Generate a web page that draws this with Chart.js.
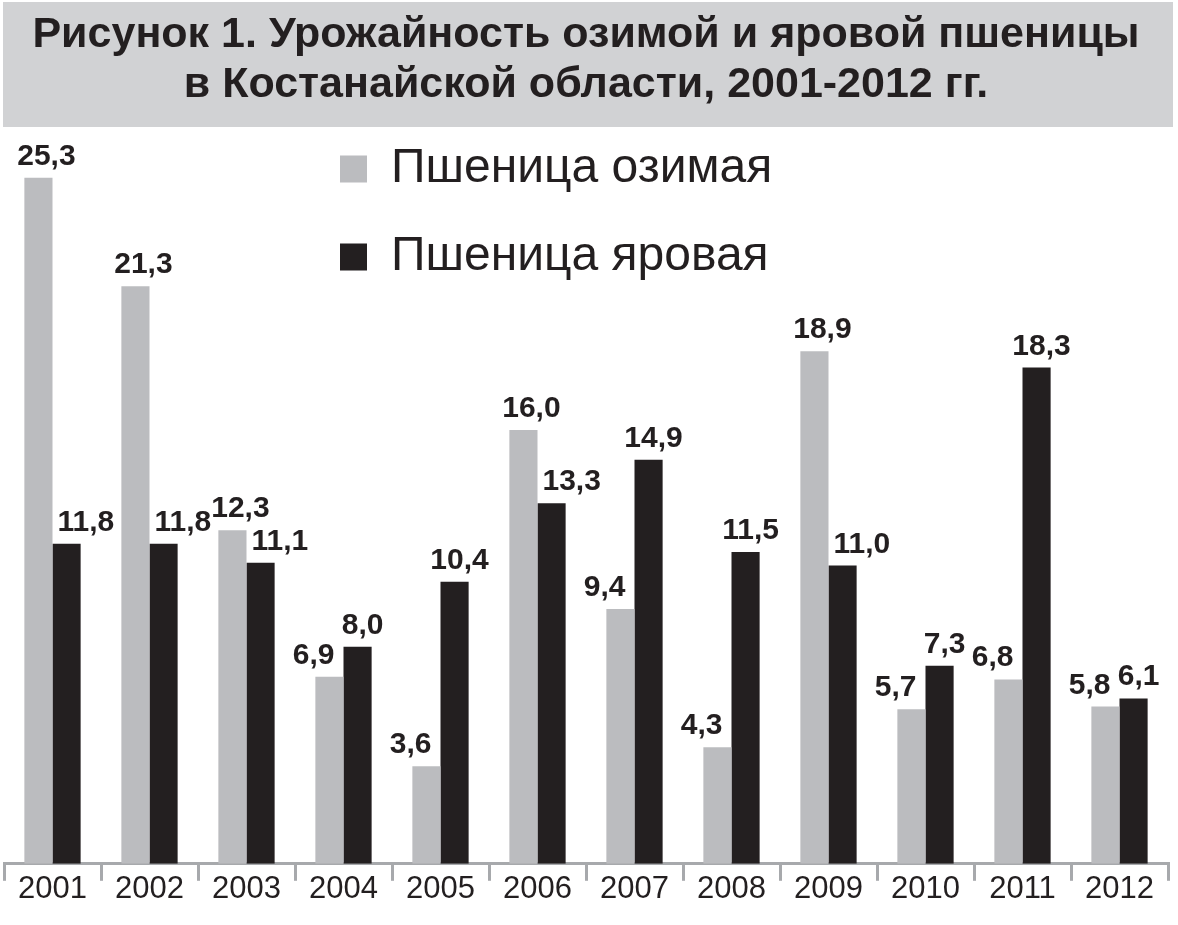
<!DOCTYPE html>
<html lang="ru">
<head>
<meta charset="utf-8">
<title>Урожайность озимой и яровой пшеницы</title>
<script src="https://cdn.jsdelivr.net/npm/chart.js@4.4.1/dist/chart.umd.min.js"></script>
<style>
  html, body { margin: 0; padding: 0; background: #fff; }
  canvas { display: block; }
</style>
</head>
<body>
<canvas id="chart" width="1178" height="925"></canvas>
<script>
const years = ['2001', '2002', '2003', '2004', '2005', '2006', '2007', '2008', '2009', '2010', '2011', '2012'];
const winterWheat = [25.3, 21.3, 12.3, 6.9, 3.6, 16.0, 9.4, 4.3, 18.9, 5.7, 6.8, 5.8];
const springWheat = [11.8, 11.8, 11.1, 8.0, 10.4, 13.3, 14.9, 11.5, 11.0, 7.3, 18.3, 6.1];
const seriesNames = ['Пшеница озимая', 'Пшеница яровая'];
const titleLines = ['Рисунок 1. Урожайность озимой и яровой пшеницы', 'в Костанайской области, 2001-2012 гг.'];

const INK = '#231f20';

// серый фон под заголовком
const titleBg = {
  id: 'titleBg',
  beforeDraw(chart) {
    const c = chart.ctx;
    c.save();
    c.fillStyle = '#d1d2d4';
    c.fillRect(3, 2, chart.width - 8, 125);
    c.restore();
  }
};

// легенда внутри области графика, сдвинута к центру
const legendShift = {
  id: 'legendShift',
  afterLayout(chart) {
    const lg = chart.legend;
    if (!lg) return;
    lg.left = 300;
    lg.top = 105;
  }
};

// подписи значений над столбцами (сдвиг, чтобы не залезать на соседний столбец)
const valueLabels = {
  id: 'valueLabels',
  afterDatasetsDraw(chart) {
    const c = chart.ctx;
    const gray = chart.getDatasetMeta(0).data;
    const black = chart.getDatasetMeta(1).data;
    c.save();
    c.font = 'bold 30px "Liberation Sans", Arial, sans-serif';
    c.fillStyle = INK;
    c.textBaseline = 'alphabetic';
    const fmt = v => v.toFixed(1).replace('.', ',');
    years.forEach((y, j) => {
      const g = winterWheat[j], s = springWheat[j];
      const gb = gray[j], bb = black[j];
      if (s > g) {
        c.textAlign = 'right';
        c.fillText(fmt(g), gb.x + gb.width / 2 - 9, gb.y - 13);
        c.textAlign = 'center';
        c.fillText(fmt(s), bb.x + 5, bb.y - 13);
      } else {
        c.textAlign = 'center';
        c.fillText(fmt(g), gb.x + 8, gb.y - 13);
        c.textAlign = 'left';
        c.fillText(fmt(s), bb.x - bb.width / 2 + 5, bb.y - 13);
      }
    });
    c.restore();
  }
};

new Chart(document.getElementById('chart'), {
  type: 'bar',
  data: {
    labels: years,
    datasets: [{
      label: seriesNames[0],
      data: winterWheat,
      backgroundColor: '#bbbcbf',
      borderWidth: 0
    }, {
      label: seriesNames[1],
      data: springWheat,
      backgroundColor: INK,
      borderWidth: 0
    }]
  },
  options: {
    responsive: false,
    animation: false,
    devicePixelRatio: 1,
    categoryPercentage: 0.58,
    barPercentage: 1,
    layout: { padding: { top: 0, left: 4, right: 10, bottom: 27 } },
    scales: {
      x: {
        grid: {
          display: true,
          offset: true,
          drawOnChartArea: false,
          drawTicks: true,
          tickLength: 17,
          color: '#a7a9ac',
          lineWidth: 3
        },
        border: { display: true, color: '#a7a9ac', width: 3 },
        ticks: {
          color: INK,
          padding: -10,
          font: { family: '"Liberation Sans", Arial, sans-serif', size: 31 }
        }
      },
      y: {
        display: false,
        min: 0,
        max: 27
      }
    },
    plugins: {
      title: {
        display: true,
        text: titleLines,
        color: INK,
        padding: { top: 10, bottom: 21 },
        font: { family: '"Liberation Sans", Arial, sans-serif', size: 43, weight: 'bold', lineHeight: 1.17 }
      },
      legend: {
        position: 'chartArea',
        align: 'start',
        labels: {
          color: INK,
          boxWidth: 27,
          boxHeight: 27,
          padding: 40,
          font: { family: '"Liberation Sans", Arial, sans-serif', size: 48 }
        }
      },
      tooltip: { enabled: false }
    }
  },
  plugins: [titleBg, legendShift, valueLabels]
});
</script>
</body>
</html>
